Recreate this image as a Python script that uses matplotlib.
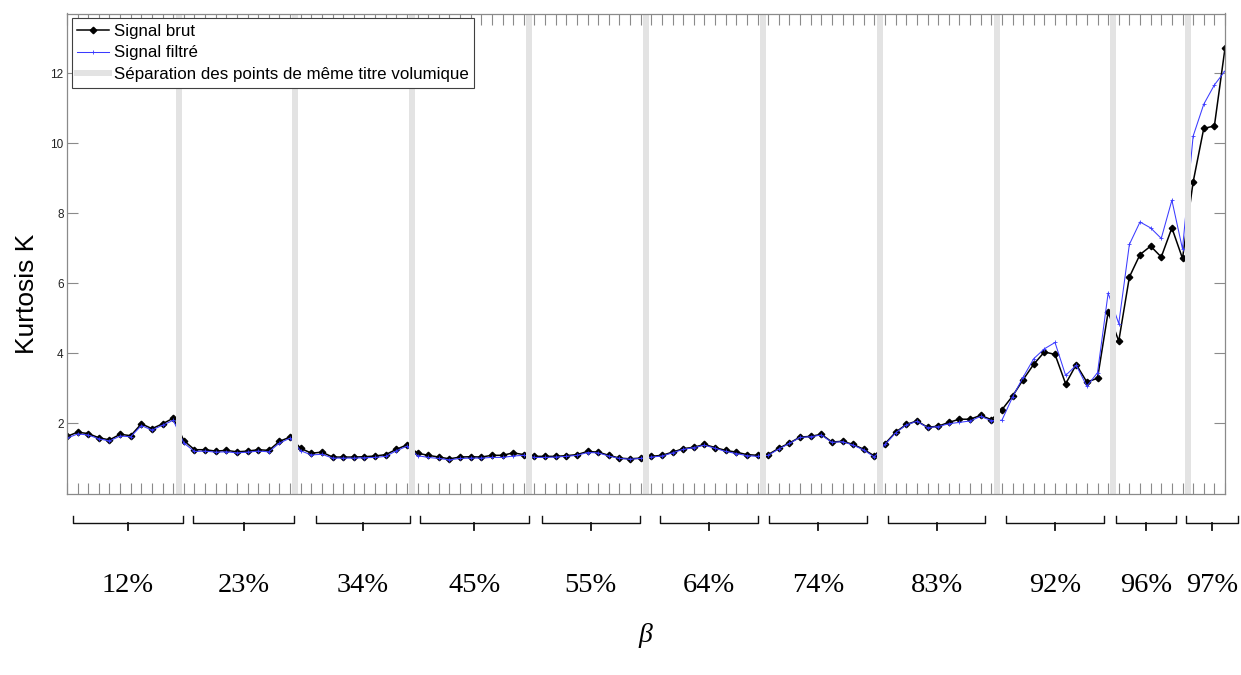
import numpy as np
import matplotlib
matplotlib.use("Agg")
import matplotlib.pyplot as plt
from matplotlib.lines import Line2D
from matplotlib.transforms import blended_transform_factory

# Volume fraction groups (beta) and kurtosis per measurement point
group_labels = ["12%", "23%", "34%", "45%", "55%", "64%", "74%", "83%", "92%", "96%", "97%"]

kurt_brut = [
    [1.63, 1.75, 1.71, 1.59, 1.53, 1.69, 1.65, 1.99, 1.85, 1.99, 2.15],
    [1.51, 1.25, 1.25, 1.21, 1.23, 1.19, 1.21, 1.25, 1.23, 1.49, 1.61],
    [1.29, 1.15, 1.18, 1.04, 1.04, 1.04, 1.05, 1.07, 1.11, 1.26, 1.39],
    [1.15, 1.09, 1.04, 0.99, 1.04, 1.05, 1.04, 1.09, 1.09, 1.16, 1.11],
    [1.06, 1.06, 1.06, 1.08, 1.11, 1.20, 1.18, 1.09, 1.01, 0.99, 1.01],
    [1.06, 1.09, 1.18, 1.28, 1.32, 1.40, 1.31, 1.23, 1.18, 1.11, 1.09],
    [1.11, 1.29, 1.44, 1.61, 1.63, 1.69, 1.47, 1.49, 1.40, 1.26, 1.07],
    [1.42, 1.75, 1.97, 2.07, 1.89, 1.92, 2.03, 2.12, 2.12, 2.23, 2.11],
    [2.39, 2.78, 3.25, 3.69, 4.04, 3.97, 3.13, 3.68, 3.18, 3.29, 5.18],
    [4.35, 6.18, 6.82, 7.06, 6.75, 7.58, 6.71],
    [8.89, 10.42, 10.49, 12.71],
]

kurt_filtre = [
    [1.58, 1.70, 1.67, 1.56, 1.50, 1.64, 1.62, 1.94, 1.81, 1.95, 2.09],
    [1.44, 1.20, 1.21, 1.18, 1.19, 1.16, 1.18, 1.21, 1.19, 1.44, 1.58],
    [1.22, 1.10, 1.12, 1.01, 1.01, 1.01, 1.02, 1.03, 1.06, 1.22, 1.35],
    [1.08, 1.03, 1.00, 0.96, 1.00, 1.01, 1.01, 1.03, 1.03, 1.07, 1.09],
    [1.03, 1.03, 1.04, 1.06, 1.09, 1.17, 1.16, 1.07, 1.00, 0.98, 1.00],
    [1.04, 1.07, 1.16, 1.26, 1.31, 1.38, 1.29, 1.20, 1.14, 1.08, 1.06],
    [1.09, 1.27, 1.43, 1.60, 1.62, 1.67, 1.46, 1.48, 1.38, 1.24, 1.04],
    [1.40, 1.73, 1.96, 2.06, 1.88, 1.91, 1.99, 2.03, 2.07, 2.20, 2.08],
    [2.09, 2.75, 3.32, 3.85, 4.13, 4.31, 3.37, 3.66, 3.06, 3.45, 5.72],
    [4.85, 7.11, 7.75, 7.58, 7.28, 8.37, 6.98],
    [10.20, 11.11, 11.66, 12.06],
]

y_ticks = [2, 4, 6, 8, 10, 12]

# Bracket extents under each group (x in point-index units)
bracket_spans = [(0.6, 10.9), (11.86, 21.4), (23.4, 32.3), (33.2, 43.5), (44.7, 53.9),
                 (55.8, 65.0), (66.1, 75.3), (77.3, 86.4), (88.4, 97.6), (98.7, 104.4),
                 (105.3, 110.2)]

brut = np.concatenate([np.asarray(g, float) for g in kurt_brut])
filtre = np.concatenate([np.asarray(g, float) for g in kurt_filtre])
x = np.arange(len(brut))
sizes = [len(g) for g in kurt_brut]
separators = np.cumsum(sizes)[:-1] - 0.5

W, H = 1241, 675
fig = plt.figure(figsize=(W / 100, H / 100), dpi=100)
ax = fig.add_axes([67 / W, 1 - 493.5 / H, (1225 - 67) / W, (493.5 - 13.5) / H])

sans = "Liberation Sans"
serif = "Liberation Serif"
frame_col = "#8a8a8a"

l_brut, = ax.plot(x, brut, "-", color="black", lw=1.1, marker="D", ms=3.3,
                  zorder=2, label="Signal brut")
l_filt, = ax.plot(x, filtre, "-", color="#3b3bff", lw=0.75, marker="+", ms=3,
                  mew=0.6, zorder=3, label="Signal filtré")
sep_line = None
for s in separators:
    sep_line = ax.axvline(s, color="#e3e3e3", lw=4.3, zorder=4,
                          label="Séparation des points de même titre volumique")

ax.set_xlim(0, len(brut) - 1)
ax.set_ylim(0, 13.7)
ax.set_xticks(x)
ax.set_yticks(y_ticks)
ax.tick_params(axis="x", direction="in", length=8, width=0.8, color=frame_col,
               top=True, bottom=True, labelbottom=False)
ax.tick_params(axis="y", direction="in", length=8, width=0.8, color=frame_col,
               left=True, right=True, labelsize=8.5, pad=2.5, labelcolor="#222222")
for lab in ax.get_yticklabels():
    lab.set_fontfamily(sans)
for sp in ax.spines.values():
    sp.set_color(frame_col)
    sp.set_linewidth(0.9)
    sp.set_zorder(5)

leg = ax.legend([l_brut, l_filt, sep_line],
                ["Signal brut", "Signal filtré", "Séparation des points de même titre volumique"],
                loc="upper left", prop={"family": sans, "size": 12.2},
                frameon=True, fancybox=False, framealpha=1, edgecolor="#404040",
                borderaxespad=0.28, handlelength=1.85, handletextpad=0.3,
                labelspacing=0.4, borderpad=0.32)
leg.get_frame().set_linewidth(0.8)
leg.set_zorder(10)

fig.text(27 / W, 1 - 294 / H, "Kurtosis K", rotation=90, fontsize=19,
         family=sans, ha="center", va="center")

# Group brackets and labels below the axis
tr = blended_transform_factory(ax.transData, fig.transFigure)
y_end = 1 - 516 / H
y_bar = 1 - 523.3 / H
y_tip = 1 - 530 / H
for (a, b), lab in zip(bracket_spans, group_labels):
    mid = 0.5 * (a + b)
    fig.add_artist(Line2D([a, a, b, b], [y_end, y_bar, y_bar, y_end], transform=tr,
                          color="#111111", lw=1.0, clip_on=False))
    fig.add_artist(Line2D([mid, mid], [y_bar, y_tip], transform=tr,
                          color="#111111", lw=1.3, clip_on=False))
    fig.text(mid, 1 - 585 / H, lab, transform=tr, ha="center", va="center",
             fontsize=20.5, family=serif)

fig.text(645 / W, 1 - 636 / H, "β", ha="center", va="center", fontsize=20,
         family=serif, style="italic")

fig.savefig("out.png", dpi=100, facecolor="white")
